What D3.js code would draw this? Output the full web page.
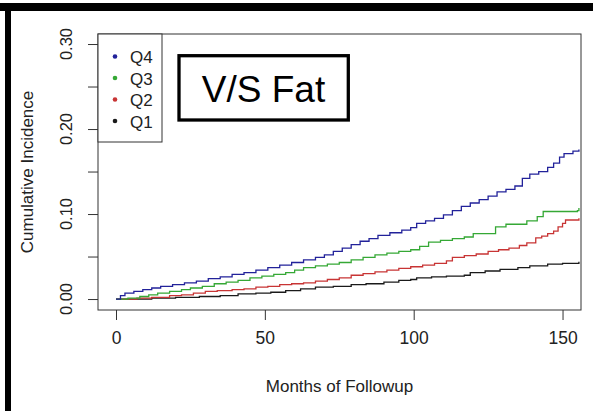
<!DOCTYPE html>
<html>
<head>
<script src="https://d3js.org/d3.v7.min.js"></script>
<style>
  body { margin: 0; background: #fff; }
  svg text { font-family: "Liberation Sans", Arial, sans-serif; fill: #222; }
</style>
</head>
<body>
<svg id="chart" width="593" height="411"></svg>
<script>
// cumulative incidence by quartile
var q4Months = [0, 1.5, 3, 6, 9, 12, 15, 19, 23, 27, 31, 35, 39, 43, 47, 51, 55, 59, 63, 67, 70, 73, 76, 79, 82, 85, 88, 92, 96, 99, 101, 104, 107, 110, 113, 116, 119, 122, 125, 128, 131, 134, 136.5, 139, 142, 145, 147, 149, 150.5, 153.5, 155.5];
var q4Values = [0, 0.004, 0.007, 0.009, 0.011, 0.013, 0.015, 0.017, 0.019, 0.021, 0.024, 0.026, 0.029, 0.031, 0.034, 0.037, 0.040, 0.043, 0.046, 0.049, 0.052, 0.056, 0.060, 0.064, 0.068, 0.071, 0.075, 0.078, 0.081, 0.084, 0.089, 0.092, 0.095, 0.099, 0.104, 0.109, 0.113, 0.117, 0.121, 0.126, 0.129, 0.133, 0.142, 0.147, 0.150, 0.155, 0.160, 0.167, 0.171, 0.174, 0.176];

var q3Months = [0, 4, 8, 11, 14, 18, 22, 25, 29, 33, 37, 41, 45, 49, 53, 57, 60, 63, 67, 71, 75, 79, 83, 87, 91, 95, 99, 102, 105, 109, 113, 117, 120, 127.5, 131, 138, 141.5, 143.5, 155, 155.5];
var q3Values = [0, 0.001, 0.003, 0.005, 0.007, 0.009, 0.011, 0.013, 0.015, 0.018, 0.020, 0.022, 0.025, 0.027, 0.029, 0.031, 0.034, 0.037, 0.039, 0.041, 0.043, 0.046, 0.049, 0.052, 0.054, 0.056, 0.058, 0.062, 0.067, 0.069, 0.071, 0.073, 0.077, 0.085, 0.088, 0.092, 0.097, 0.103, 0.104, 0.107];

var q2Months = [0, 7, 12, 18, 22, 26, 30, 34, 39, 43, 47, 51, 55, 59, 63, 67, 71, 75, 79, 83, 87, 91, 95, 99, 103, 107, 111, 113, 117, 121, 125, 128.5, 132, 135.5, 138, 141, 143, 145, 147, 148.5, 150, 151, 155.5];
var q2Values = [0, 0.001, 0.002, 0.004, 0.005, 0.007, 0.009, 0.010, 0.011, 0.012, 0.014, 0.015, 0.017, 0.018, 0.019, 0.021, 0.023, 0.025, 0.028, 0.030, 0.032, 0.034, 0.036, 0.038, 0.040, 0.042, 0.045, 0.049, 0.051, 0.053, 0.056, 0.058, 0.060, 0.063, 0.066, 0.072, 0.074, 0.077, 0.080, 0.085, 0.089, 0.093, 0.095];

var q1Months = [0, 12, 20, 28, 35, 41, 47, 52, 57, 62, 67, 73, 79, 84, 90, 95, 99, 101, 106, 111, 117, 119, 124, 129, 135, 139, 145, 150, 155, 155.5];
var q1Values = [0, 0.001, 0.002, 0.003, 0.004, 0.006, 0.007, 0.008, 0.010, 0.012, 0.014, 0.015, 0.017, 0.018, 0.020, 0.022, 0.023, 0.025, 0.026, 0.027, 0.028, 0.031, 0.033, 0.035, 0.037, 0.039, 0.041, 0.042, 0.042, 0.044];

var seriesNames = ["Q4", "Q3", "Q2", "Q1"];
var seriesColors = ["#22229a", "#35a835", "#c83434", "#1a1a1a"];
var xTicks = [0, 50, 100, 150];
var yTicks = [0, 0.05, 0.10, 0.15, 0.20, 0.25, 0.30];
var yLabels = [0, 0.10, 0.20, 0.30];

var svg = d3.select("#chart");
var pL = 98, pR = 581, pT = 34, pB = 310;

var x = d3.scaleLinear().domain([-6.05, 156.2]).range([pL, pR]);
var y = d3.scaleLinear().domain([-0.0129, 0.3118]).range([pB, pT]);

svg.append("rect").attr("width", 593).attr("height", 411).attr("fill", "#fff");

// black frame pieces of the screenshot
svg.append("rect").attr("x", 0).attr("y", 3).attr("width", 593).attr("height", 8).attr("fill", "#000");
svg.append("rect").attr("x", 5).attr("y", 3).attr("width", 6).attr("height", 408).attr("fill", "#000");

var series = [
  { name: "Q4", m: q4Months, v: q4Values },
  { name: "Q3", m: q3Months, v: q3Values },
  { name: "Q2", m: q2Months, v: q2Values },
  { name: "Q1", m: q1Months, v: q1Values }
];

var line = d3.line()
  .x(function (d) { return x(d[0]); })
  .y(function (d) { return y(d[1]); })
  .curve(d3.curveStepAfter);

// draw Q1 first so Q4 sits on top
series.slice().reverse().forEach(function (s) {
  var i = seriesNames.indexOf(s.name);
  svg.append("path")
    .datum(s.m.map(function (m, j) { return [m, s.v[j]]; }))
    .attr("d", line)
    .attr("fill", "none")
    .attr("stroke", seriesColors[i])
    .attr("stroke-width", 1.3);
});

// box
svg.append("rect")
  .attr("x", pL).attr("y", pT)
  .attr("width", pR - pL).attr("height", pB - pT)
  .attr("fill", "none").attr("stroke", "#333").attr("stroke-width", 1);

// x axis
var xAxis = d3.axisBottom(x).tickValues(xTicks).tickSize(10).tickPadding(12).tickSizeOuter(0);
var gx = svg.append("g").attr("transform", "translate(0," + pB + ")").call(xAxis);
gx.select(".domain").remove();
gx.selectAll("line").attr("stroke", "#333");
gx.selectAll("text").attr("font-size", 17.5).attr("fill", "#222")
  .attr("font-family", "Liberation Sans, Arial, sans-serif");

// y axis
var yAxis = d3.axisLeft(y).tickValues(yTicks).tickSize(10).tickFormat("");
var gy = svg.append("g").attr("transform", "translate(" + pL + ",0)").call(yAxis);
gy.select(".domain").remove();
gy.selectAll("line").attr("stroke", "#333");

svg.selectAll(".ylab")
  .data(yLabels)
  .enter().append("text")
  .attr("class", "ylab")
  .attr("transform", function (d) { return "translate(72," + y(d) + ") rotate(-90)"; })
  .attr("text-anchor", "middle")
  .attr("font-size", 16.5)
  .text(function (d) { return d3.format(".2f")(d); });

// axis titles
svg.append("text")
  .attr("x", (pL + pR) / 2).attr("y", 392)
  .attr("text-anchor", "middle").attr("font-size", 17)
  .text("Months of Followup");

svg.append("text")
  .attr("transform", "translate(33," + (pT + pB) / 2 + ") rotate(-90)")
  .attr("text-anchor", "middle").attr("font-size", 17)
  .text("Cumulative Incidence");

// legend
svg.append("rect")
  .attr("x", pL).attr("y", pT).attr("width", 64).attr("height", 108)
  .attr("fill", "#fff").attr("stroke", "#333").attr("stroke-width", 1);

var leg = svg.selectAll(".leg")
  .data(seriesNames)
  .enter().append("g")
  .attr("class", "leg")
  .attr("transform", function (d, i) { return "translate(115," + (56.5 + i * 21.5) + ")"; });

leg.append("circle").attr("r", 2.3)
  .attr("fill", function (d, i) { return seriesColors[i]; });
leg.append("text").attr("x", 15).attr("y", 6.5)
  .attr("font-size", 17)
  .text(function (d) { return d; });

// label box
svg.append("rect")
  .attr("x", 179).attr("y", 55.7).attr("width", 169.3).attr("height", 64.3)
  .attr("fill", "#fff").attr("stroke", "#000").attr("stroke-width", 3.3);
svg.append("text")
  .attr("x", 263.5).attr("y", 101.5)
  .attr("text-anchor", "middle").attr("font-size", 37)
  .style("fill", "#000")
  .text("V/S Fat");
</script>
</body>
</html>
